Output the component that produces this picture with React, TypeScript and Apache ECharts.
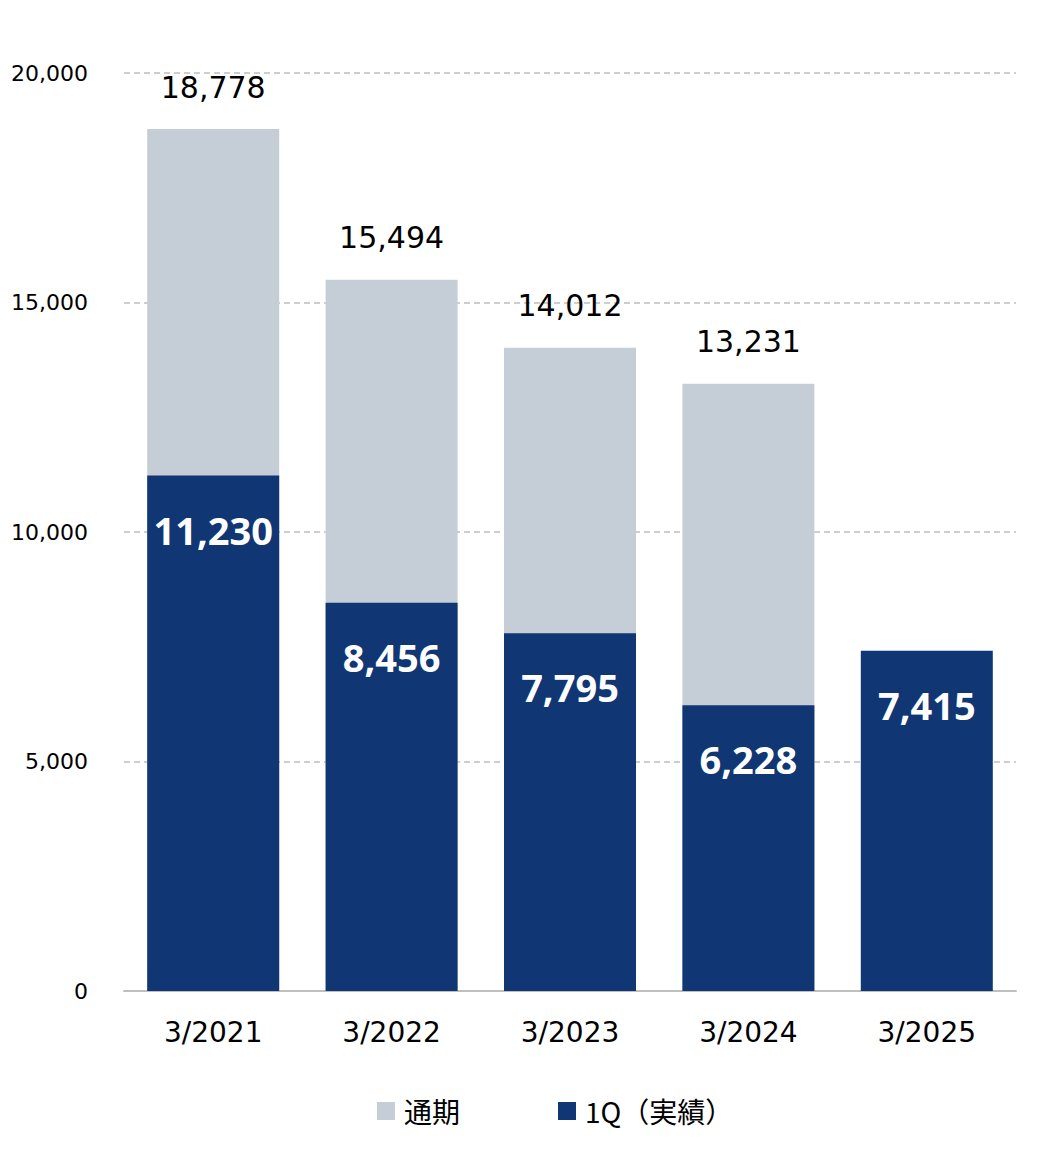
import React, { useEffect, useRef } from "react";
import * as echarts from "echarts";

const categories = ["3/2021", "3/2022", "3/2023", "3/2024", "3/2025"];
const fullYear: (number | null)[] = [18778, 15494, 14012, 13231, null];
const firstQuarter = [11230, 8456, 7795, 6228, 7415];
const seriesNames = ["通期", "1Q（実績）"];
const yTicks = { min: 0, max: 20000, interval: 5000 };

const fmt = (v: number) => v.toLocaleString("en-US");

export default function App() {
  const ref = useRef<HTMLDivElement>(null);
  useEffect(() => {
    if (!ref.current) return;
    const chart = echarts.init(ref.current, undefined, { renderer: "svg" });
    chart.setOption({
      animation: false,
      grid: { left: 124, right: 43, top: 73, bottom: 177 },
      legend: {
        data: seriesNames,
        bottom: 38,
        left: 372,
        itemWidth: 18,
        itemHeight: 18,
        itemGap: 98,
        icon: "rect",
        textStyle: {
          fontFamily: "'Noto Sans CJK JP', sans-serif",
          fontSize: 28,
          color: "#000",
          padding: [0, 0, 0, 4],
        },
      },
      xAxis: {
        type: "category",
        data: categories,
        axisTick: { show: false },
        axisLine: { lineStyle: { color: "#BFBFBF", width: 2 } },
        axisLabel: {
          margin: 27,
          fontFamily: "DejaVu Sans",
          fontSize: 28,
          color: "#000",
        },
      },
      yAxis: {
        type: "value",
        min: yTicks.min,
        max: yTicks.max,
        interval: yTicks.interval,
        axisLine: { show: false },
        axisTick: { show: false },
        axisLabel: {
          margin: 36,
          fontFamily: "DejaVu Sans",
          fontSize: 22,
          color: "#000",
          formatter: (v: number) => fmt(v),
        },
        splitLine: {
          lineStyle: { color: "#BFBFBF", type: [6, 4], width: 1.5 },
        },
      },
      series: [
        {
          name: seriesNames[0],
          type: "bar",
          data: fullYear,
          barWidth: 132,
          barGap: "-100%",
          itemStyle: { color: "#C5CED6" },
          label: {
            show: true,
            position: "top",
            distance: 27,
            fontFamily: "DejaVu Sans",
            fontSize: 30,
            color: "#000",
            formatter: (p: any) => (p.value == null ? "" : fmt(p.value)),
          },
          z: 1,
        },
        {
          name: seriesNames[1],
          type: "bar",
          data: firstQuarter,
          barWidth: 132,
          barGap: "-100%",
          itemStyle: { color: "#103673" },
          label: {
            show: true,
            position: "insideTop",
            distance: 35,
            fontFamily: "'Open Sans', 'Noto Sans', sans-serif",
            fontWeight: "bold",
            fontSize: 38,
            color: "#fff",
            formatter: (p: any) => fmt(p.value),
          },
          z: 2,
        },
      ],
    });
    return () => chart.dispose();
  }, []);
  return (
    <div
      ref={ref}
      style={{ position: "fixed", left: 0, top: 0, width: 1059, height: 1168, background: "#fff" }}
    />
  );
}
